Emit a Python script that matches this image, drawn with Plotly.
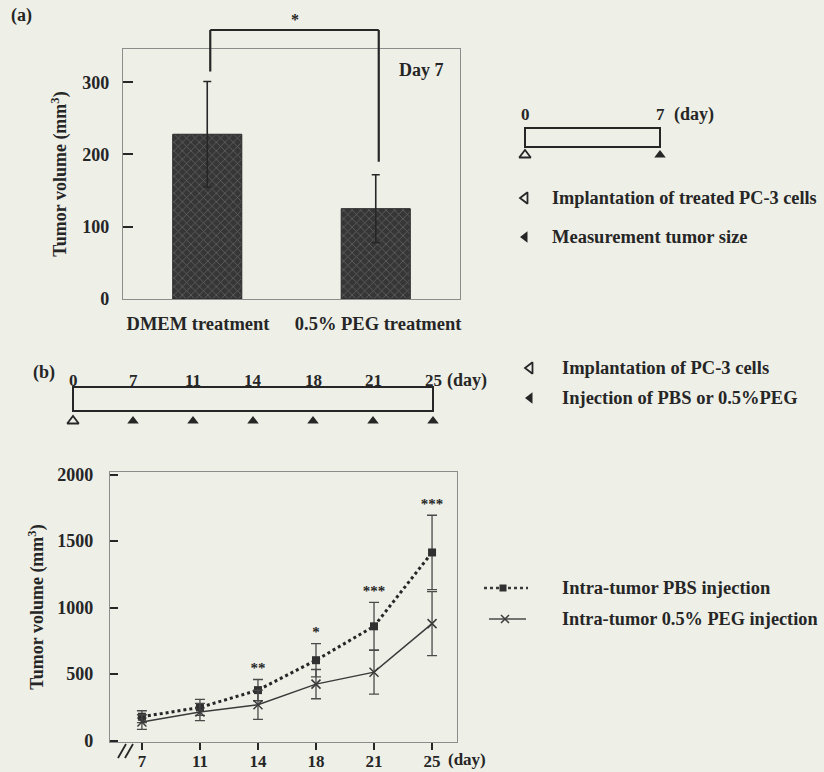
import plotly.graph_objects as go

W, H = 824, 772
BG = "#eef0e8"
INK = "#262626"
FRAME = "#8c8c8c"
FONT = "Liberation Serif, Times New Roman, serif"

# ---------------- data ----------------
bar_categories = ["DMEM treatment", "0.5% PEG treatment"]
bar_means = [228, 125]
bar_errors = [73, 47]
bar_sig_label = "*"

days = ["7", "11", "14", "18", "21", "25"]
pbs_mean = [180, 250, 380, 605, 860, 1415]
pbs_err = [45, 60, 80, 125, 180, 280]
peg_mean = [140, 215, 270, 425, 515, 880]
peg_err = [55, 65, 110, 110, 165, 240]
sig_labels = ["", "", "**", "*", "***", "***"]

timeline_a_days = ["0", "7"]
timeline_b_days = ["0", "7", "11", "14", "18", "21", "25"]

legend_a = ["Implantation of treated PC-3 cells", "Measurement tumor size"]
legend_b = ["Implantation of PC-3 cells", "Injection of PBS or 0.5%PEG"]
series_names = ["Intra-tumor PBS injection", "Intra-tumor 0.5% PEG injection"]

# ---------------- layout geometry (pixels) ----------------
XA_DOM, YA_DOM = (123, 460), (49, 299)
XB_DOM, YB_DOM = (110, 457), (472, 742)
XA_RANGE, YA_RANGE = (-0.5, 1.5), (0, 346)
XB_RANGE, YB_RANGE = (-0.55, 5.43), (-10, 2020)


def px(x):
    return x / W


def py(y):
    return 1 - y / H


def xa_px(v):
    return XA_DOM[0] + (v - XA_RANGE[0]) / (XA_RANGE[1] - XA_RANGE[0]) * (XA_DOM[1] - XA_DOM[0])


def ya_px(v):
    return YA_DOM[1] - (v - YA_RANGE[0]) / (YA_RANGE[1] - YA_RANGE[0]) * (YA_DOM[1] - YA_DOM[0])


def tfont(size=17, color=INK):
    return dict(family=FONT, size=size, color=color, weight="bold")


fig = go.Figure()

# ---- panel (a) bars ----
fig.add_trace(go.Bar(
    x=bar_categories, y=bar_means, width=0.41,
    marker=dict(color="#3a3a3a", line=dict(color="#2a2a2a", width=1),
                pattern=dict(shape="x", size=6, solidity=0.25, fgcolor="#8e8e8e", bgcolor="#363636")),
    error_y=dict(type="data", array=bar_errors, color=INK, thickness=1.6, width=4),
    xaxis="x", yaxis="y", showlegend=False, hoverinfo="skip"))

# ---- panel (b) lines ----
fig.add_trace(go.Scatter(
    x=days, y=pbs_mean, mode="lines+markers", name=series_names[0],
    line=dict(color=INK, width=3, dash="dot"),
    marker=dict(symbol="square", size=8, color="#303030"),
    error_y=dict(type="data", array=pbs_err, color="#4a4a4a", thickness=1.3, width=5),
    xaxis="x2", yaxis="y2", showlegend=False))
fig.add_trace(go.Scatter(
    x=days, y=peg_mean, mode="lines+markers", name=series_names[1],
    line=dict(color="#3a3a3a", width=1.5),
    marker=dict(symbol="x-thin", size=9, color="#3a3a3a", line=dict(width=1.5, color="#3a3a3a")),
    error_y=dict(type="data", array=peg_err, color="#4a4a4a", thickness=1.3, width=5),
    xaxis="x2", yaxis="y2", showlegend=False))
sig_idx = [i for i, s in enumerate(sig_labels) if s]
fig.add_trace(go.Scatter(
    x=[days[i] for i in sig_idx], y=[pbs_mean[i] + pbs_err[i] + 75 for i in sig_idx], mode="text",
    text=[sig_labels[i] for i in sig_idx], textfont=tfont(15), textposition="middle center",
    xaxis="x2", yaxis="y2", showlegend=False, hoverinfo="skip"))

# ---- schematic symbols on a pixel overlay axis ----
ta_x = [525 + i * (660 - 525) / (len(timeline_a_days) - 1) for i in range(len(timeline_a_days))]
tb_x = [73 + i * (433 - 73) / (len(timeline_b_days) - 1) for i in range(len(timeline_b_days))]

fig.add_trace(go.Scatter(
    x=[ta_x[0], tb_x[0]], y=[155, 421], mode="markers",
    marker=dict(symbol="triangle-up-open", size=10, color=INK, line=dict(width=1.8)),
    xaxis="x3", yaxis="y3", showlegend=False, hoverinfo="skip"))
fig.add_trace(go.Scatter(
    x=ta_x[1:] + tb_x[1:], y=[155] * (len(ta_x) - 1) + [421] * (len(tb_x) - 1), mode="markers",
    marker=dict(symbol="triangle-up", size=10, color=INK),
    xaxis="x3", yaxis="y3", showlegend=False, hoverinfo="skip"))
fig.add_trace(go.Scatter(
    x=[525, 530], y=[198, 368], mode="markers",
    marker=dict(symbol="triangle-left-open", size=10, color=INK, line=dict(width=1.8)),
    xaxis="x3", yaxis="y3", showlegend=False, hoverinfo="skip"))
fig.add_trace(go.Scatter(
    x=[525, 530], y=[237, 398], mode="markers",
    marker=dict(symbol="triangle-left", size=10, color=INK),
    xaxis="x3", yaxis="y3", showlegend=False, hoverinfo="skip"))
# legend samples for panel (b)
fig.add_trace(go.Scatter(
    x=[484, 528], y=[588, 588], mode="lines",
    line=dict(color="#3a3a3a", width=2.5, dash="dot"),
    xaxis="x3", yaxis="y3", showlegend=False, hoverinfo="skip"))
fig.add_trace(go.Scatter(
    x=[503], y=[588], mode="markers", marker=dict(symbol="square", size=7, color="#303030"),
    xaxis="x3", yaxis="y3", showlegend=False, hoverinfo="skip"))
fig.add_trace(go.Scatter(
    x=[489, 526], y=[619, 619], mode="lines",
    line=dict(color="#4a4a4a", width=1.3),
    xaxis="x3", yaxis="y3", showlegend=False, hoverinfo="skip"))
fig.add_trace(go.Scatter(
    x=[505], y=[619], mode="markers",
    marker=dict(symbol="x-thin", size=8, color="#3a3a3a", line=dict(width=1.5, color="#3a3a3a")),
    xaxis="x3", yaxis="y3", showlegend=False, hoverinfo="skip"))

shapes = []
# timeline boxes
shapes.append(dict(type="rect", xref="paper", yref="paper", x0=px(525), x1=px(660), y0=py(147), y1=py(128),
                   line=dict(color=INK, width=2)))
shapes.append(dict(type="rect", xref="paper", yref="paper", x0=px(73), x1=px(433), y0=py(411), y1=py(387),
                   line=dict(color=INK, width=2)))
# significance bracket, panel (a)
bx0, bx1 = xa_px(0) + 3, xa_px(1) + 3
top = 30
left_bottom = ya_px(bar_means[0] + bar_errors[0]) - 10
right_bottom = ya_px(bar_means[1] + bar_errors[1]) - 13
for (xa, ya, xb, yb) in [(bx0, left_bottom, bx0, top), (bx0, top, bx1, top), (bx1, top, bx1, right_bottom)]:
    shapes.append(dict(type="line", xref="paper", yref="paper", x0=px(xa), y0=py(ya), x1=px(xb), y1=py(yb),
                       line=dict(color=INK, width=2.2)))
# axis break marks
for dx in (0, 7):
    shapes.append(dict(type="line", xref="paper", yref="paper", x0=px(118 + dx), y0=py(758),
                       x1=px(126 + dx), y1=py(744), line=dict(color=INK, width=1.8)))

annotations = []


def add_text(x, y, text, size=17, xanchor="left", yanchor="middle"):
    annotations.append(dict(x=px(x), y=py(y), xref="paper", yref="paper", text=text, showarrow=False,
                            font=tfont(size), xanchor=xanchor, yanchor=yanchor))


add_text(9, 16, "(a)", 18)
add_text(31, 373, "(b)", 18)
add_text(446, 70, "Day 7", 18, xanchor="right")
add_text((bx0 + bx1) / 2, 20, bar_sig_label, 16, xanchor="center")

for x, t in zip(ta_x, timeline_a_days):
    add_text(x, 115, t, 17, xanchor="center")
add_text(672, 115, "(day)", 18)
add_text(550, 198, legend_a[0], 18.3)
add_text(550, 237, legend_a[1], 18.5)

for x, t in zip(tb_x, timeline_b_days):
    add_text(x, 380, t, 17, xanchor="center")
add_text(445, 380, "(day)", 18)
add_text(560, 368, legend_b[0], 18.5)
add_text(560, 398, legend_b[1], 18.5)
add_text(560, 588, series_names[0], 18.5)
add_text(560, 619, series_names[1], 18.3)
add_text(446, 759, "(day)", 17)

axis_common = dict(showgrid=False, zeroline=False, showline=True, mirror=True, linecolor=FRAME, linewidth=1.2,
                   tickfont=tfont(18), tickcolor=INK, automargin=False)

NBSP = "\u00a0"
bar_ticktext = [bar_categories[0] + NBSP * 4, NBSP + bar_categories[1]]

fig.update_layout(
    width=W, height=H,
    margin=dict(l=0, r=0, t=0, b=0, pad=0, autoexpand=False),
    paper_bgcolor=BG, plot_bgcolor="rgba(0,0,0,0)",
    font=dict(family=FONT, color=INK),
    shapes=shapes, annotations=annotations,
    xaxis=dict(domain=[px(XA_DOM[0]), px(XA_DOM[1])], range=list(XA_RANGE), type="category", anchor="y",
               tickvals=bar_categories, ticktext=bar_ticktext, tickangle=0,
               ticks="", ticklabelstandoff=8, **{**axis_common, "tickfont": tfont(18.5)}),
    yaxis=dict(domain=[py(YA_DOM[1]), py(YA_DOM[0])], range=list(YA_RANGE), anchor="x",
               tickvals=[0, 100, 200, 300], ticks="inside", ticklen=10, tickwidth=1.5, ticklabelstandoff=9,
               title=dict(text="Tumor volume (mm<sup>3</sup>)", font=tfont(18), standoff=10), **axis_common),
    xaxis2=dict(domain=[px(XB_DOM[0]), px(XB_DOM[1])], range=list(XB_RANGE), type="category", anchor="y2",
                ticks="outside", ticklen=7, tickwidth=1.5, ticklabelstandoff=-4, tickangle=0,
                **{**axis_common, "tickfont": tfont(17)}),
    yaxis2=dict(domain=[py(YB_DOM[1]), py(YB_DOM[0])], range=list(YB_RANGE), anchor="x2",
                tickvals=[0, 500, 1000, 1500, 2000], ticks="inside", ticklen=8, tickwidth=1.5,
                ticklabelstandoff=12,
                title=dict(text="Tumor volume (mm<sup>3</sup>)", font=tfont(18), standoff=8), **axis_common),
    xaxis3=dict(domain=[0, 1], range=[0, W], anchor="y3", visible=False, fixedrange=True, automargin=False),
    yaxis3=dict(domain=[0, 1], range=[H, 0], anchor="x3", visible=False, fixedrange=True, automargin=False),
)

fig.write_html("out.html", config={"displayModeBar": False},
               post_script="document.body.style.margin='0';")
